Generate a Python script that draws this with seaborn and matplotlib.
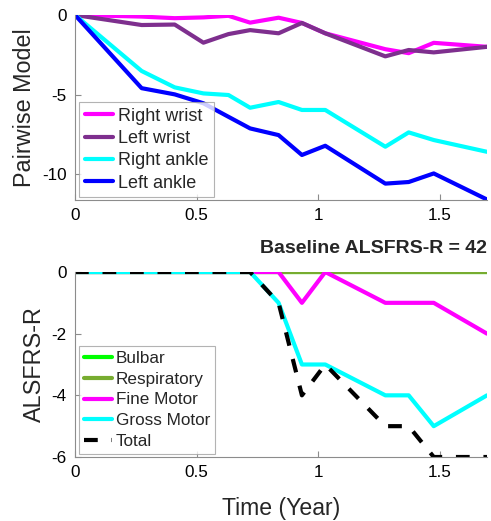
import numpy as np
import pandas as pd
import matplotlib
matplotlib.use("Agg")
import matplotlib.pyplot as plt
import seaborn as sns

# Visit times (years since baseline)
time_years = [0, 0.274, 0.41, 0.528, 0.631, 0.72, 0.837, 0.933, 1.029, 1.276, 1.372, 1.475, 1.694]

# Pairwise model output per sensor location
right_wrist = [0, -0.1, -0.2, -0.15, -0.05, -0.48, -0.17, -0.5, -1.15, -2.15, -2.4, -1.75, -2.0]
left_wrist = [0, -0.63, -0.6, -1.74, -1.2, -0.95, -1.15, -0.5, -1.15, -2.6, -2.2, -2.35, -2.0]
right_ankle = [0, -3.52, -4.55, -4.93, -5.03, -5.83, -5.47, -5.97, -5.97, -8.28, -7.38, -7.86, -8.6]
left_ankle = [0, -4.6, -4.99, -5.55, -6.4, -7.13, -7.55, -8.8, -8.22, -10.6, -10.5, -9.96, -11.6]

# ALSFRS-R subscore change from baseline
bulbar = [0, 0, 0, 0, 0, 0, 0, 0, 0, 0, 0, 0, 0]
respiratory = [0, 0, 0, 0, 0, 0, 0, 0, 0, 0, 0, 0, 0]
fine_motor = [0, 0, 0, 0, 0, 0, 0, -1, 0, -1, -1, -1, -2]
gross_motor = [0, 0, 0, 0, 0, 0, -1, -3, -3, -4, -4, -5, -4]
total = [0, 0, 0, 0, 0, 0, -1, -4, -3, -5, -5, -6, -6]

baseline_score = 42
x_ticks = [0, 0.5, 1, 1.5]
x_tick_labels = ["0", "0.5", "1", "1.5"]

sns.set_style("ticks")
plt.rcParams["font.family"] = ["Liberation Sans", "DejaVu Sans"]

spine_gray = "#8c8c8c"

fig = plt.figure(figsize=(4.91, 5.21), dpi=100)
ax_top = fig.add_axes([75 / 491, 1 - 200 / 521, 412 / 491, 185 / 521])
ax_bot = fig.add_axes([75 / 491, 1 - 457 / 521, 412 / 491, 185 / 521])

lw = 3.0

top_series = [
    ("Right wrist", right_wrist, "#ff00ff"),
    ("Left wrist", left_wrist, "#7e2f8e"),
    ("Right ankle", right_ankle, "#00ffff"),
    ("Left ankle", left_ankle, "#0000ff"),
]
for name, vals, col in top_series:
    df = pd.DataFrame({"t": time_years, "v": vals})
    sns.lineplot(data=df, x="t", y="v", ax=ax_top, color=col, linewidth=lw,
                 label=name, estimator=None, sort=False)

bot_series = [
    ("Bulbar", bulbar, "#00ff00", "-"),
    ("Respiratory", respiratory, "#77ac30", "-"),
    ("Fine Motor", fine_motor, "#ff00ff", "-"),
    ("Gross Motor", gross_motor, "#00ffff", "-"),
    ("Total", total, "#000000", (0, (3.3, 3.3))),
]
for name, vals, col, ls in bot_series:
    df = pd.DataFrame({"t": time_years, "v": vals})
    sns.lineplot(data=df, x="t", y="v", ax=ax_bot, color=col, linewidth=lw,
                 linestyle=ls, label=name, estimator=None, sort=False)

for ax in (ax_top, ax_bot):
    ax.set_xlim(0, 1.694)
    ax.set_xticks(x_ticks)
    ax.set_xticklabels(x_tick_labels)
    for side in ("top", "right"):
        ax.spines[side].set_visible(False)
    for side in ("left", "bottom"):
        ax.spines[side].set_color(spine_gray)
        ax.spines[side].set_linewidth(0.8)
    ax.tick_params(direction="in", length=4, width=0.8, color=spine_gray,
                   labelsize=12.3, labelcolor="black", pad=6)
    ax.set_xlabel("")

ax_top.set_ylim(-11.63, 0)
ax_top.set_yticks([0, -5, -10])
ax_top.set_yticklabels(["0", "-5", "-10"])
ax_top.set_ylabel("Pairwise Model", fontsize=16.8, labelpad=4)

ax_bot.set_ylim(-6, 0)
ax_bot.set_yticks([0, -2, -4, -6])
ax_bot.set_yticklabels(["0", "-2", "-4", "-6"])
ax_bot.set_ylabel("ALSFRS-R", fontsize=16.8, labelpad=4)
ax_bot.set_xlabel("Time (Year)", fontsize=16.6, labelpad=12)
ax_bot.set_title(f"Baseline ALSFRS-R = {baseline_score}", loc="right",
                 fontweight="bold", fontsize=14, pad=14)

for ax, fs, sp in ((ax_top, 13, 0.3), (ax_bot, 12.3, 0.34)):
    leg = ax.legend(loc="lower left", bbox_to_anchor=(0.01, 0.015), fontsize=fs,
                    frameon=True, fancybox=False, edgecolor="#a0a0a0",
                    handlelength=1.6, handletextpad=0.25, labelspacing=sp,
                    borderpad=0.3, borderaxespad=0.0)
    leg.get_frame().set_linewidth(0.8)

fig.savefig("out.png", dpi=100)
